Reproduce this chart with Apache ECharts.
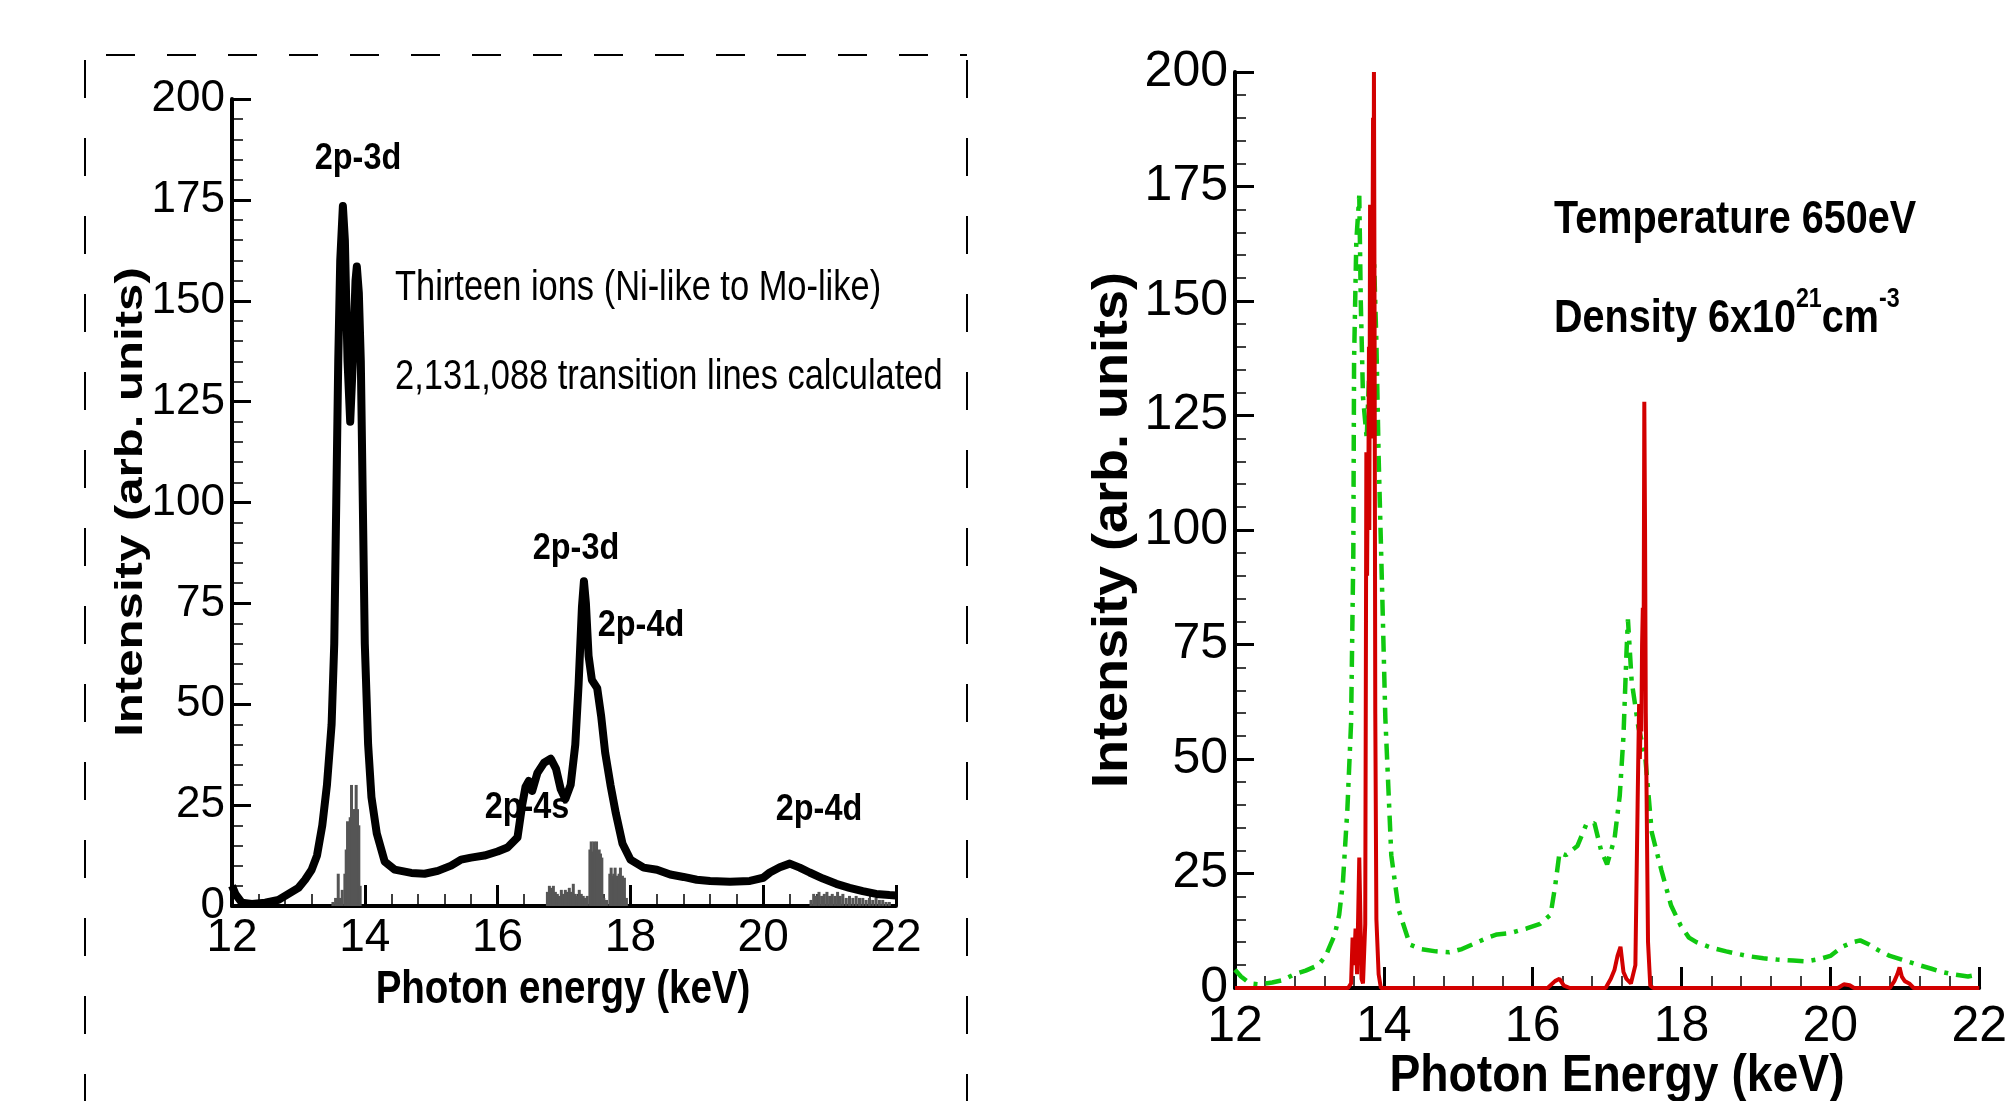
<!DOCTYPE html>
<html>
<head>
<meta charset="utf-8">
<script src="https://cdn.jsdelivr.net/npm/echarts@6/dist/echarts.min.js"></script>
<style>
  html, body { margin: 0; padding: 0; background: #fff; }
  #chart { width: 2010px; height: 1101px; }
</style>
</head>
<body>
<div id="chart"></div>
<script>
// left panel: calculated spectrum (black) and line list (grey sticks)
var blackEnergy = [12.0, 12.05, 12.15, 12.3, 12.5, 12.7, 12.85, 13.0, 13.1, 13.2, 13.28, 13.36, 13.43, 13.5, 13.54, 13.57, 13.6, 13.63, 13.67, 13.7, 13.74, 13.78, 13.82, 13.86, 13.88, 13.91, 13.94, 13.97, 14.0, 14.05, 14.1, 14.18, 14.3, 14.45, 14.7, 14.9, 15.1, 15.3, 15.45, 15.6, 15.8, 16.0, 16.15, 16.3, 16.37, 16.42, 16.47, 16.52, 16.6, 16.7, 16.8, 16.88, 16.95, 17.02, 17.1, 17.17, 17.22, 17.27, 17.3, 17.33, 17.37, 17.42, 17.5, 17.56, 17.62, 17.7, 17.78, 17.88, 18.0, 18.2, 18.4, 18.6, 18.8, 19.0, 19.2, 19.5, 19.8, 20.0, 20.1, 20.25, 20.4, 20.55, 20.7, 20.9, 21.1, 21.3, 21.5, 21.7, 21.9, 22.0];
var blackIntensity = [5, 3, 0.8, 0.5, 0.8, 1.5, 3, 4.5, 6.5, 9, 12.5, 20, 30, 45, 65, 100, 135, 160, 173.5, 165, 135, 120, 135, 155, 158.5, 152, 135, 100, 65, 40, 27, 18, 11, 9, 8.2, 8, 8.7, 10, 11.5, 12, 12.5, 13.5, 14.5, 17, 25, 29.5, 31, 28.5, 33, 35.5, 36.5, 34, 29, 26.5, 30, 40, 55, 74, 80.5, 75, 62, 56, 54, 47, 38, 30, 23, 15.5, 11.5, 9.5, 9, 7.8, 7.2, 6.5, 6.2, 6, 6.2, 7, 8.3, 9.6, 10.5, 9.5, 8.3, 6.8, 5.5, 4.5, 3.7, 3, 2.7, 2.6];

var stickEnergy = [13.52, 13.56, 13.6, 13.63, 13.66, 13.7, 13.72, 13.74, 13.76, 13.78, 13.8, 13.81, 13.83, 13.85, 13.87, 13.89, 13.91, 13.93,
  16.75, 16.78, 16.81, 16.84, 16.87, 16.9, 16.93, 16.96, 16.99, 17.02, 17.05, 17.08, 17.11, 17.14, 17.17, 17.2, 17.23, 17.26, 17.29, 17.32, 17.35,
  17.39, 17.41, 17.43, 17.45, 17.47, 17.49, 17.51, 17.53, 17.55, 17.57, 17.6, 17.64,
  17.69, 17.71, 17.73, 17.75, 17.77, 17.8, 17.83, 17.85, 17.88, 17.91, 17.94,
  20.72, 20.76, 20.8, 20.84, 20.88, 20.92, 20.96, 21.0, 21.04, 21.08, 21.12, 21.16, 21.2, 21.25, 21.3, 21.35, 21.4, 21.45, 21.5, 21.55, 21.6, 21.65, 21.7, 21.75, 21.8, 21.85, 21.9];
var stickIntensity = [1, 2, 8, 2, 4, 8, 14, 21, 19, 22, 30, 22, 24, 24, 30, 24, 20, 5,
  3.5, 5, 4.5, 5, 3.5, 3, 2.5, 4, 3, 4, 3.5, 4.5, 3.5, 5.5, 3, 2.5, 4, 3, 2.5, 2, 2.5,
  14, 16, 13.5, 16, 14, 16, 13.5, 14, 13, 12, 2, 1.5,
  8, 9.5, 7.5, 8, 9.5, 7.5, 8, 9.5, 7.5, 7, 2,
  1.5, 3, 2.5, 3.5, 2.5, 3, 3.5, 2.5, 3, 2.5, 3.5, 2.5, 3, 2, 2.5, 2, 2.5, 2, 2, 1.5, 2, 1.5, 2, 1.5, 1.5, 1, 1];

// right panel: 650 eV spectrum (green dash-dot) and red line spectrum
var greenEnergy = [12.0, 12.08, 12.2, 12.32, 12.5, 12.64, 12.8, 12.95, 13.12, 13.22, 13.27, 13.34, 13.4, 13.45, 13.51, 13.56, 13.59, 13.6, 13.63, 13.67, 13.69, 13.72, 13.77, 13.81, 13.87, 13.9, 13.93, 13.98, 14.02, 14.1, 14.2, 14.35, 14.5, 14.7, 14.88, 15.05, 15.2, 15.4, 15.52, 15.7, 15.92, 16.1, 16.24, 16.3, 16.36, 16.45, 16.52, 16.6, 16.72, 16.83, 16.92, 17.0, 17.1, 17.17, 17.22, 17.26, 17.28, 17.33, 17.42, 17.51, 17.6, 17.73, 17.86, 17.99, 18.1, 18.2, 18.4, 18.6, 18.88, 19.1, 19.28, 19.5, 19.68, 19.85, 20.0, 20.16, 20.3, 20.4, 20.52, 20.64, 20.8, 20.96, 21.15, 21.36, 21.5, 21.68, 21.85, 22.0];
var greenIntensity = [4, 2.5, 1, 0.8, 1.2, 1.7, 3, 3.8, 5, 7, 9, 11.6, 16, 23, 39, 58, 95, 137, 163, 173, 150, 129, 120, 137, 158, 141, 116, 85, 59, 29, 17, 9.5, 8.5, 8, 7.8, 8.5, 9.6, 11, 11.7, 12, 13, 14, 16, 22, 29.5, 29, 30, 31, 35.7, 36, 30, 27, 32.6, 42, 55, 73, 80.5, 67, 57, 51, 34, 25.7, 18, 13.6, 11, 10, 8.8, 8, 7, 6.5, 6.2, 6, 5.8, 6.3, 7, 9, 10, 10.4, 9.5, 8.3, 7, 6.2, 5.2, 4.2, 3.5, 2.9, 2.5, 3];

var redEnergy = [12.0, 13.52, 13.56, 13.58, 13.6, 13.62, 13.64, 13.67, 13.7, 13.72, 13.75, 13.76, 13.765, 13.775, 13.785, 13.79, 13.8, 13.805, 13.815, 13.825, 13.835, 13.845, 13.855, 13.86, 13.867, 13.875, 13.885, 13.9, 13.93, 13.96,
  16.2, 16.3, 16.36, 16.42, 16.5, 16.98, 17.05, 17.1, 17.14, 17.18, 17.22, 17.26, 17.32, 17.38, 17.41, 17.43, 17.44, 17.45, 17.46, 17.47, 17.48, 17.49, 17.5, 17.51, 17.52, 17.55, 17.58, 17.62,
  20.1, 20.18, 20.26, 20.32, 20.8, 20.86, 20.9, 20.93, 20.96, 21.0, 21.06, 21.12, 22.0];
var redIntensity = [0, 0, 1, 11, 5, 13, 3, 28.5, 2, 1, 14, 80, 117, 90, 117, 100, 140, 100, 171, 120, 171, 150, 190, 140, 200, 150, 60, 15, 3, 0,
  0, 1.5, 2, 0.5, 0, 0, 2, 4, 7, 9, 3.5, 2, 1, 5, 40, 62, 50, 58, 56, 75, 83, 70, 128, 100, 60, 10, 0.5, 0,
  0, 0.8, 0.6, 0, 0, 1.5, 3, 4.5, 2.5, 1.5, 1, 0, 0];

function zip(xs, ys) {
  return xs.map(function (x, i) { return [x, ys[i]]; });
}

var SANS = '"Liberation Sans", Arial, sans-serif';

function xAxisCfg(grid, fs, margin) {
  return {
    gridIndex: grid, type: 'value', min: 12, max: 22, interval: 2,
    axisLine: {lineStyle: {color: '#000', width: 4}},
    axisTick: {inside: true, length: 21, lineStyle: {color: '#000', width: 3}},
    minorTick: {show: true, splitNumber: 5, length: 12, lineStyle: {color: '#000', width: 1.5}},
    splitLine: {show: false},
    axisLabel: {fontFamily: SANS, fontSize: fs, color: '#000', margin: margin}
  };
}

function yAxisCfg(grid, fs) {
  return {
    gridIndex: grid, type: 'value', min: 0, max: 200, interval: 25,
    axisLine: {lineStyle: {color: '#000', width: 4}},
    axisTick: {inside: true, length: 19, lineStyle: {color: '#000', width: 3}},
    minorTick: {show: true, splitNumber: 5, length: 11, lineStyle: {color: '#000', width: 1.5}},
    splitLine: {show: false},
    axisLabel: {fontFamily: SANS, fontSize: fs, color: '#000', margin: 7}
  };
}

// text squeezed (or stretched) sideways to copy the narrow print of the figure
function label(text, x, y, fs, bold, sx, align, rot) {
  return {
    type: 'text', x: x, y: y, z: 10, scaleX: sx, rotation: rot || 0,
    style: {text: text, fontFamily: SANS, fontSize: fs, fontWeight: bold ? 'bold' : 'normal',
      fill: '#000', align: align || 'center', verticalAlign: 'middle'}
  };
}

var chart = echarts.init(document.getElementById('chart'));

chart.setOption({
  animation: false,
  backgroundColor: '#fff',
  grid: [
    {left: 232, top: 99, width: 664, height: 807},
    {left: 1235, top: 72, width: 759, height: 916}
  ],
  xAxis: [xAxisCfg(0, 46, 9), xAxisCfg(1, 50, 14)],
  yAxis: [yAxisCfg(0, 44), yAxisCfg(1, 50)],
  series: [
    {
      type: 'bar', xAxisIndex: 0, yAxisIndex: 0, barWidth: 3,
      itemStyle: {color: '#555555'},
      data: zip(stickEnergy, stickIntensity)
    },
    {
      type: 'line', xAxisIndex: 0, yAxisIndex: 0, showSymbol: false,
      lineStyle: {color: '#000', width: 8, join: 'round'},
      data: zip(blackEnergy, blackIntensity)
    },
    {
      type: 'line', xAxisIndex: 1, yAxisIndex: 1, showSymbol: false,
      lineStyle: {color: '#10c810', width: 4.5, type: [16, 8, 4, 8]},
      data: zip(greenEnergy, greenIntensity)
    },
    {
      type: 'line', xAxisIndex: 1, yAxisIndex: 1, showSymbol: false,
      lineStyle: {color: '#d20000', width: 4},
      data: zip(redEnergy, redIntensity)
    }
  ],
  graphic: [
    // dashed frame round the left figure
    {type: 'line', shape: {x1: 106, y1: 55, x2: 967, y2: 55}, style: {stroke: '#000', lineWidth: 2, lineDash: [29, 32]}},
    {type: 'line', shape: {x1: 85, y1: 60, x2: 85, y2: 1101}, style: {stroke: '#000', lineWidth: 2, lineDash: [38, 40]}},
    {type: 'line', shape: {x1: 967, y1: 60, x2: 967, y2: 1101}, style: {stroke: '#000', lineWidth: 2, lineDash: [38, 40]}},
    // axis titles
    label('Intensity (arb. units)', 131, 502, 39, true, 1.26, 'center', Math.PI / 2),
    label('Photon energy (keV)', 563, 990, 47, true, 0.82),
    label('Intensity (arb. units)', 1113, 530, 50, true, 1.08, 'center', Math.PI / 2),
    label('Photon Energy (keV)', 1617, 1077, 52, true, 0.89),
    // annotations
    label('2p-3d', 358, 159, 36, true, 0.9),
    label('2p-3d', 576, 549, 36, true, 0.9),
    label('2p-4d', 641, 626, 36, true, 0.9),
    label('2p-4s', 527, 808, 36, true, 0.9),
    label('2p-4d', 819, 810, 36, true, 0.9),
    label('Thirteen ions (Ni-like to Mo-like)', 395, 288, 42, false, 0.82, 'left'),
    label('2,131,088 transition lines calculated', 395, 377, 42, false, 0.82, 'left'),
    label('Temperature 650eV', 1554, 220, 46, true, 0.86, 'left'),
    {
      type: 'text', x: 1554, y: 314, z: 10, scaleX: 0.86,
      style: {
        text: '{b|Density 6x10}{s|21}{b|cm}{s|-3}',
        verticalAlign: 'middle',
        rich: {
          b: {fontFamily: SANS, fontWeight: 'bold', fontSize: 46, fill: '#000', lineHeight: 56, verticalAlign: 'bottom'},
          s: {fontFamily: SANS, fontWeight: 'bold', fontSize: 27, fill: '#000', lineHeight: 56, verticalAlign: 'top'}
        }
      }
    }
  ]
});
</script>
</body>
</html>
